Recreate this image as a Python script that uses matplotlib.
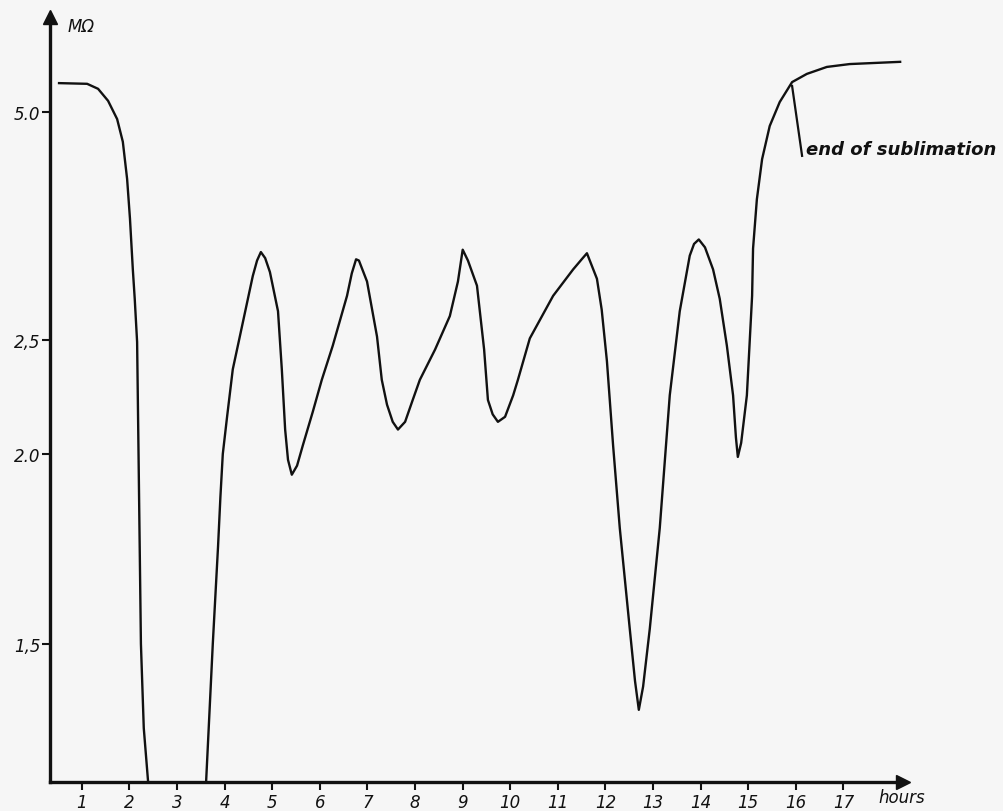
import numpy as np
import matplotlib
matplotlib.use("Agg")
import matplotlib.pyplot as plt

# ---------- data (hours, MΩ) ---------- #
hours = [0.52, 1.11, 1.34, 1.55, 1.74, 1.86, 1.95, 2.01, 2.07, 2.11, 2.16, 2.19, 2.24, 2.30, 2.39, 2.43,
         3.56, 3.61, 3.75, 3.86, 3.91, 3.96, 4.05, 4.17, 4.38, 4.59, 4.68, 4.76, 4.85,
         4.95, 5.12, 5.20, 5.27, 5.33, 5.41, 5.52, 5.64, 5.85, 6.04,
         6.27, 6.57, 6.67, 6.76, 6.82,
         6.99, 7.20, 7.30, 7.41, 7.53, 7.64, 7.79, 7.95, 8.10,
         8.42, 8.73, 8.90, 9.00, 9.11,
         9.30, 9.45, 9.53, 9.63, 9.74, 9.89, 10.06, 10.16,
         10.41, 10.90, 11.32, 11.50, 11.61,
         11.82, 11.92, 12.03, 12.16, 12.30, 12.51, 12.62, 12.70, 12.79,
         12.93, 13.14, 13.35, 13.56, 13.77, 13.86, 13.96, 14.09,
         14.26, 14.40, 14.55, 14.68, 14.74, 14.78, 14.85,
         14.97, 15.08, 15.10, 15.18, 15.29, 15.45, 15.66, 15.92, 16.23, 16.65, 17.13, 18.19]
resistance = [5.74, 5.72, 5.58, 5.27, 4.86, 4.43, 3.87, 3.41, 2.96, 2.75, 2.49, 2.00, 1.50, 1.35, 1.27, 1.21,
              1.21, 1.27, 1.50, 1.72, 1.86, 2.00, 2.14, 2.35, 2.60, 2.91, 3.03, 3.10, 3.05,
              2.94, 2.67, 2.35, 2.09, 1.98, 1.93, 1.96, 2.03, 2.16, 2.30,
              2.47, 2.77, 2.93, 3.04, 3.03,
              2.87, 2.52, 2.30, 2.19, 2.12, 2.09, 2.12, 2.21, 2.30,
              2.45, 2.64, 2.87, 3.12, 3.03,
              2.84, 2.45, 2.21, 2.15, 2.12, 2.14, 2.23, 2.30,
              2.51, 2.77, 2.96, 3.04, 3.09,
              2.89, 2.68, 2.39, 2.03, 1.77, 1.53, 1.43, 1.38, 1.42,
              1.53, 1.77, 2.23, 2.67, 3.07, 3.17, 3.21, 3.14,
              2.96, 2.75, 2.47, 2.23, 2.06, 1.99, 2.04,
              2.23, 2.77, 3.13, 3.62, 4.15, 4.72, 5.24, 5.77, 6.02, 6.25, 6.35, 6.43]

y_ticks = [5.0, 2.5, 2.0, 1.5]
y_tick_labels = ["5.0", "2,5", "2.0", "1,5"]
x_ticks = list(range(1, 18))

note_text = "end of sublimation"
note_point = (15.92, 5.66)
note_foot = (16.13, 4.20)
note_text_y = 4.31


def forward(y):
    with np.errstate(divide="ignore", invalid="ignore"):
        return -1.0 / np.asarray(y, dtype=float)


def inverse(v):
    with np.errstate(divide="ignore", invalid="ignore"):
        return -1.0 / np.asarray(v, dtype=float)


ink = "#111111"
paper = "#f6f6f6"

fig = plt.figure(figsize=(10.04, 8.12), dpi=100, facecolor=paper)
ax = fig.add_axes([50 / 1004, 1 - 783 / 812, (903 - 50) / 1004, (783 - 18) / 812])
ax.set_facecolor(paper)

ax.set_yscale("function", functions=(forward, inverse))
ax.set_xlim(0.33, 18.25)
ax.set_ylim(1.269, 8.61)

ax.plot(hours, resistance, color=ink, lw=1.7, solid_joinstyle="round")

# leader line + note
ax.plot([note_point[0], note_foot[0]], [note_point[1], note_foot[1]], color=ink, lw=1.6)
ax.text(note_foot[0] + 0.08, note_text_y, note_text, fontsize=13, style="italic",
        fontweight="bold", color=ink, va="center", ha="left")

# ---------- axes look ---------- #
for s in ["top", "right"]:
    ax.spines[s].set_visible(False)
for s in ["left", "bottom"]:
    ax.spines[s].set_linewidth(2.4)
    ax.spines[s].set_color(ink)

ax.plot(0, 1, "^", color=ink, ms=10, transform=ax.transAxes, clip_on=False)
ax.plot(1, 0, ">", color=ink, ms=10, transform=ax.transAxes, clip_on=False)

ax.set_yticks(y_ticks)
ax.set_yticklabels(y_tick_labels)
ax.yaxis.set_minor_locator(matplotlib.ticker.NullLocator())
ax.set_xticks(x_ticks)
ax.set_xticklabels([str(t) for t in x_ticks])
ax.tick_params(axis="both", direction="out", length=6, width=1.5, color=ink,
               labelcolor=ink, labelsize=12)
ax.tick_params(axis="y", pad=1)
ax.tick_params(axis="x", pad=2)
for lbl in ax.get_xticklabels() + ax.get_yticklabels():
    lbl.set_style("italic")

fig.text(68 / 1004, 1 - 27 / 812, "MΩ", fontsize=12, style="italic", color=ink,
         va="center", ha="left")
fig.text(878 / 1004, 1 - 798 / 812, "hours", fontsize=12, style="italic", color=ink,
         va="center", ha="left")

fig.savefig("out.png", dpi=100, facecolor=paper)
